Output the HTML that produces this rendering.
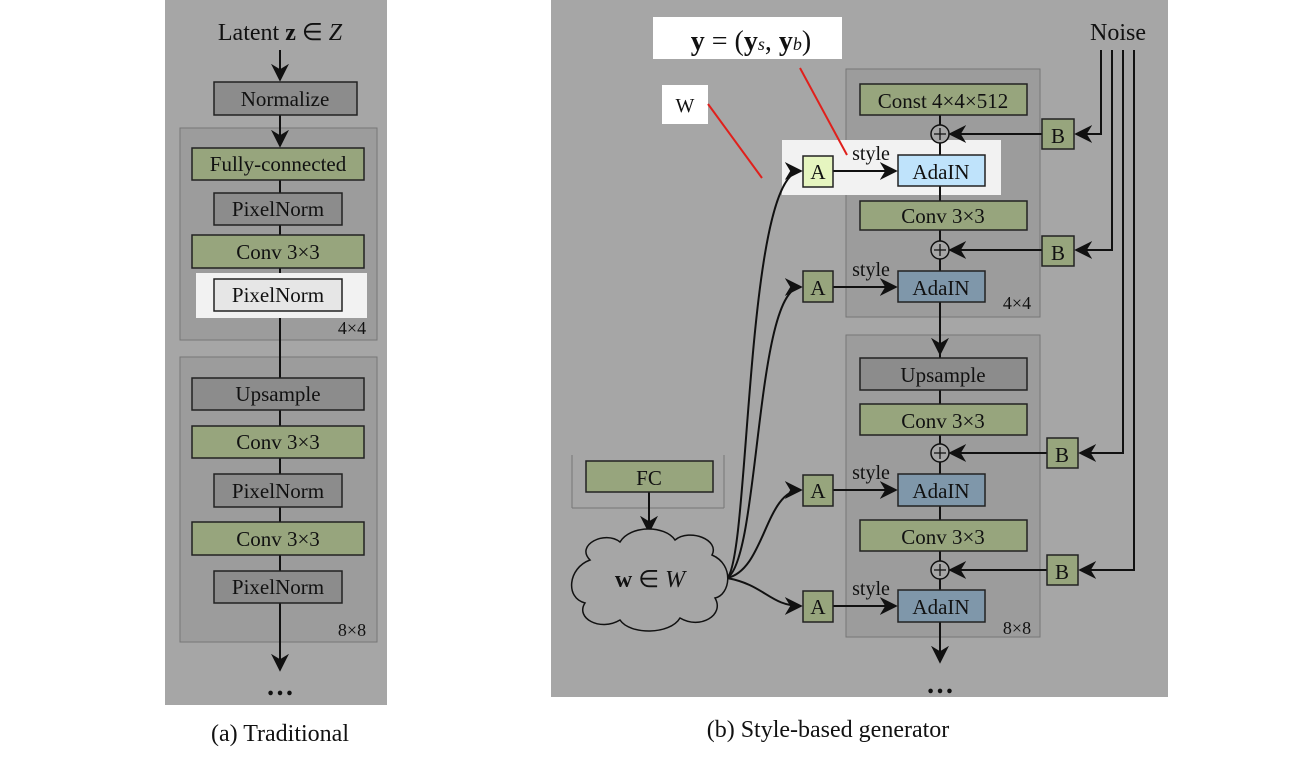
<!DOCTYPE html>
<html><head><style>body{margin:0;background:#fff}svg{display:block}text{font-family:"Liberation Serif",serif;fill:#111}</style></head><body>
<svg width="1300" height="760" viewBox="0 0 1300 760" xmlns="http://www.w3.org/2000/svg">
<defs><marker id="ar" viewBox="0 0 10 10" refX="9" refY="5" markerWidth="9" markerHeight="9" orient="auto"><path d="M0,0 L10,5 L0,10 L3,5 z" fill="#111"/></marker></defs>
<!-- Left panel -->
<rect x="165" y="0" width="222" height="705" fill="#a6a6a6"/>
<rect x="180" y="128" width="197" height="212" fill="#9c9c9c" stroke="#777"/>
<rect x="180" y="357" width="197" height="285" fill="#9c9c9c" stroke="#777"/>
<g stroke="#111" stroke-width="2" fill="none">
<line x1="280" y1="50" x2="280" y2="80" marker-end="url(#ar)"/>
<line x1="280" y1="115" x2="280" y2="146" marker-end="url(#ar)"/>
<line x1="280" y1="180" x2="280" y2="600"/>
<line x1="280" y1="600" x2="280" y2="670" marker-end="url(#ar)"/>
</g>
<rect x="196" y="273" width="171" height="45" fill="#f2f2f2"/>
<g stroke="#222" stroke-width="1.5">
<rect x="214" y="82" width="143" height="33" fill="#8c8c8c"/>
<rect x="192" y="148" width="172" height="32" fill="#97a57d"/>
<rect x="214" y="193" width="128" height="32" fill="#8c8c8c"/>
<rect x="192" y="235" width="172" height="33" fill="#97a57d"/>
<rect x="214" y="279" width="128" height="32" fill="#e6e6e6"/>
<rect x="192" y="378" width="172" height="32" fill="#8c8c8c"/>
<rect x="192" y="426" width="172" height="32" fill="#97a57d"/>
<rect x="214" y="474" width="128" height="33" fill="#8c8c8c"/>
<rect x="192" y="522" width="172" height="33" fill="#97a57d"/>
<rect x="214" y="571" width="128" height="32" fill="#8c8c8c"/>
</g>
<g font-size="21" text-anchor="middle">
<text x="280" y="40" font-size="24">Latent <tspan font-weight="bold">z</tspan> ∈ <tspan font-style="italic">Z</tspan></text>
<text x="285" y="106">Normalize</text>
<text x="278" y="171">Fully-connected</text>
<text x="278" y="216">PixelNorm</text>
<text x="278" y="259">Conv 3×3</text>
<text x="278" y="302">PixelNorm</text>
<text x="278" y="401">Upsample</text>
<text x="278" y="449">Conv 3×3</text>
<text x="278" y="498">PixelNorm</text>
<text x="278" y="546">Conv 3×3</text>
<text x="278" y="594">PixelNorm</text>
<text x="352" y="334" font-size="18">4×4</text>
<text x="352" y="636" font-size="18">8×8</text>
<text x="280" y="695" font-size="28" font-weight="bold">…</text>
<text x="280" y="741" font-size="24">(a) Traditional</text>
</g>
<!-- Right panel -->
<rect x="551" y="0" width="617" height="697" fill="#a6a6a6"/>
<rect x="846" y="69" width="194" height="248" fill="#9c9c9c" stroke="#777"/>
<rect x="846" y="335" width="194" height="302" fill="#9c9c9c" stroke="#777"/>
<path d="M572 508 L572 455 M724 455 L724 508 M572 508 L724 508" stroke="#777" fill="none"/>
<rect x="782" y="140" width="219" height="55" fill="#f2f2f2"/>
<g stroke="#111" stroke-width="2" fill="none">
<line x1="940" y1="115" x2="940" y2="650"/>
<line x1="940" y1="637" x2="940" y2="662" marker-end="url(#ar)"/>
<line x1="940" y1="317" x2="940" y2="354" marker-end="url(#ar)"/>
<line x1="649" y1="492" x2="649" y2="532" marker-end="url(#ar)"/>
<path d="M1101 50 V134 H1076" marker-end="url(#ar)"/>
<path d="M1112 50 V250 H1076" marker-end="url(#ar)"/>
<path d="M1123 50 V453 H1080" marker-end="url(#ar)"/>
<path d="M1134 50 V570 H1080" marker-end="url(#ar)"/>
<line x1="1042" y1="134" x2="950" y2="134" marker-end="url(#ar)"/>
<line x1="1042" y1="250" x2="950" y2="250" marker-end="url(#ar)"/>
<line x1="1047" y1="453" x2="950" y2="453" marker-end="url(#ar)"/>
<line x1="1047" y1="570" x2="950" y2="570" marker-end="url(#ar)"/>
<line x1="833" y1="171" x2="896" y2="171" marker-end="url(#ar)"/>
<line x1="833" y1="287" x2="896" y2="287" marker-end="url(#ar)"/>
<line x1="833" y1="490" x2="896" y2="490" marker-end="url(#ar)"/>
<line x1="833" y1="606" x2="896" y2="606" marker-end="url(#ar)"/>
<path d="M727 578 C750 560,745 171,801 171" marker-end="url(#ar)"/>
<path d="M727 578 C760 560,755 287,801 287" marker-end="url(#ar)"/>
<path d="M727 578 C765 570,765 490,801 490" marker-end="url(#ar)"/>
<path d="M727 578 C765 585,770 606,801 606" marker-end="url(#ar)"/>
</g>
<g stroke="#111" stroke-width="1.5" fill="#a6a6a6">
<circle cx="940" cy="134" r="9"/><circle cx="940" cy="250" r="9"/><circle cx="940" cy="453" r="9"/><circle cx="940" cy="570" r="9"/>
</g>
<g stroke="#111" stroke-width="1.3"><path d="M934 134h12M940 128v12M934 250h12M940 244v12M934 453h12M940 447v12M934 570h12M940 564v12"/></g>
<g stroke="#222" stroke-width="1.5">
<rect x="860" y="84" width="167" height="31" fill="#97a57d"/>
<rect x="898" y="155" width="87" height="31" fill="#bfe3fb"/>
<rect x="803" y="156" width="30" height="31" fill="#e6f5c0"/>
<rect x="860" y="201" width="167" height="29" fill="#97a57d"/>
<rect x="898" y="271" width="87" height="31" fill="#7f97aa"/>
<rect x="803" y="271" width="30" height="31" fill="#97a57d"/>
<rect x="1042" y="119" width="32" height="30" fill="#97a57d"/>
<rect x="1042" y="236" width="32" height="30" fill="#97a57d"/>
<rect x="860" y="358" width="167" height="32" fill="#8c8c8c"/>
<rect x="860" y="404" width="167" height="31" fill="#97a57d"/>
<rect x="898" y="474" width="87" height="32" fill="#7f97aa"/>
<rect x="803" y="475" width="30" height="31" fill="#97a57d"/>
<rect x="860" y="520" width="167" height="31" fill="#97a57d"/>
<rect x="898" y="590" width="87" height="32" fill="#7f97aa"/>
<rect x="803" y="591" width="30" height="31" fill="#97a57d"/>
<rect x="1047" y="438" width="31" height="30" fill="#97a57d"/>
<rect x="1047" y="555" width="31" height="30" fill="#97a57d"/>
<rect x="586" y="461" width="127" height="31" fill="#97a57d"/>
</g>
<path d="M590 560 C575 545,605 530,620 542 C630 525,665 525,675 540 C690 528,720 540,712 555 C735 565,730 595,715 598 C725 615,700 630,680 618 C670 635,630 635,620 620 C600 632,575 618,585 603 C565 598,568 568,590 560 Z" fill="#a6a6a6" stroke="#111" stroke-width="1.5"/>
<rect x="653" y="17" width="189" height="42" fill="#fff"/>
<rect x="662" y="85" width="46" height="39" fill="#fff"/>
<g stroke="#e0201c" stroke-width="2"><line x1="708" y1="104" x2="762" y2="178"/><line x1="800" y1="68" x2="847" y2="155"/></g>
<g font-size="21" text-anchor="middle">
<text x="751" y="50" font-size="28"><tspan font-weight="bold">y</tspan> = (<tspan font-weight="bold">y</tspan><tspan font-size="18" font-style="italic">s</tspan>, <tspan font-weight="bold">y</tspan><tspan font-size="18" font-style="italic">b</tspan>)</text>
<text x="685" y="112" font-size="20">W</text>
<text x="1118" y="40" font-size="24">Noise</text>
<text x="943" y="108">Const 4×4×512</text>
<text x="941" y="179">AdaIN</text>
<text x="818" y="179">A</text>
<text x="943" y="223">Conv 3×3</text>
<text x="941" y="295">AdaIN</text>
<text x="818" y="295">A</text>
<text x="1058" y="143">B</text>
<text x="1058" y="260">B</text>
<text x="943" y="382">Upsample</text>
<text x="943" y="428">Conv 3×3</text>
<text x="941" y="498">AdaIN</text>
<text x="818" y="498">A</text>
<text x="943" y="544">Conv 3×3</text>
<text x="941" y="614">AdaIN</text>
<text x="818" y="614">A</text>
<text x="1062" y="462">B</text>
<text x="1062" y="579">B</text>
<text x="649" y="485">FC</text>
<text x="871" y="160" font-size="20">style</text>
<text x="871" y="276" font-size="20">style</text>
<text x="871" y="479" font-size="20">style</text>
<text x="871" y="595" font-size="20">style</text>
<text x="1017" y="309" font-size="18">4×4</text>
<text x="1017" y="634" font-size="18">8×8</text>
<text x="650" y="587" font-size="24"><tspan font-weight="bold">w</tspan> ∈ <tspan font-style="italic">W</tspan></text>
<text x="940" y="693" font-size="28" font-weight="bold">…</text>
<text x="828" y="737" font-size="24">(b) Style-based generator</text>
</g>
</svg>
</body></html>
